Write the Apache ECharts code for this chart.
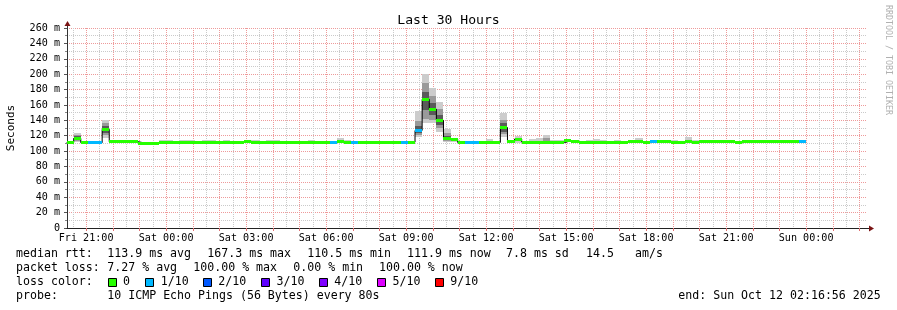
<!DOCTYPE html>
<html>
<head>
<meta charset="utf-8">
<script src="https://cdn.jsdelivr.net/npm/echarts@6/dist/echarts.min.js"></script>
<style>
html,body{margin:0;padding:0;background:#ffffff;}
#c{width:897px;height:310px;}
</style>
</head>
<body>
<div id="c"></div>
<script>
// ---------- DATA ----------
// x unit: hours relative to Fri 21:00
const X_MIN = -0.717778;          // Fri 20:16:56
const X_MAX = 29.282222;          // Sun 02:16:56
const BUCKET_FIRST = -0.733333;   // first 16-minute bucket starts Fri 20:16
const BUCKET_HOURS = 16 / 60;

const timeLabelHours = [0, 3, 6, 9, 12, 15, 18, 21, 24, 27];
const timeLabels = ['Fri 21:00', 'Sat 00:00', 'Sat 03:00', 'Sat 06:00', 'Sat 09:00',
                    'Sat 12:00', 'Sat 15:00', 'Sat 18:00', 'Sat 21:00', 'Sun 00:00'];

// median RTT per 16-min bucket (ms)
const median = [
  111.0, 116.5, 110.8, 110.8, 110.8, 128.3, 112.0, 112.0, 113.0, 112.3,
  110.5, 110.5, 110.5, 111.5, 111.5, 111.5, 111.5, 111.5, 111.0, 111.8,
  111.8, 111.5, 111.5, 111.5, 111.5, 112.5, 111.5, 111.5, 111.5, 111.5,
  111.5, 111.5, 111.5, 111.5, 111.5, 111.5, 111.5, 111.5, 112.0, 111.5,
  111.5, 111.5, 111.0, 111.0, 111.5, 111.5, 111.5, 111.5, 111.5, 126.8,
  167.3, 154.5, 140.0, 116.2, 115.5, 111.2, 111.2, 111.2, 111.2, 111.2,
  111.2, 130.7, 112.0, 115.7, 111.8, 111.8, 111.8, 111.8, 111.8, 111.0,
  113.5, 112.0, 111.8, 111.8, 111.8, 111.8, 111.5, 111.5, 111.5, 112.2,
  112.5, 110.8, 112.2, 112.2, 112.2, 111.0, 111.0, 112.2, 111.0, 112.2,
  112.2, 112.2, 112.2, 112.2, 110.8, 112.2, 112.2, 112.2, 112.2, 112.2,
  112.2, 112.2, 112.2, 111.9
];
// lost pings (of 10) per bucket
const lossCount = [
  0,0,0,1,1,0,0,0,0,0,
  0,0,0,0,0,0,0,0,0,0,
  0,0,0,0,0,0,0,0,0,0,
  0,0,0,0,0,0,0,1,0,0,
  1,0,0,0,0,0,0,1,0,1,
  0,0,0,0,0,0,1,1,0,0,
  0,0,0,0,0,0,0,0,0,0,
  0,0,0,0,0,0,0,0,0,0,
  0,0,1,0,0,0,0,0,0,0,
  0,0,0,0,0,0,0,0,0,0,
  0,0,0,1
];
// smoke: full range of the 10 pings (ms)
const smokeMax = [
  112.0, 124.0, 112.0, 112.0, 112.0, 140.5, 114.4, 113.0, 114.0, 113.3,
  111.5, 111.5, 111.5, 114.5, 114.5, 112.5, 114.5, 114.5, 112.5, 114.5,
  114.5, 112.5, 113.8, 112.5, 112.5, 113.5, 114.5, 112.5, 114.5, 114.5,
  112.5, 112.5, 112.5, 112.5, 114.5, 112.5, 112.5, 112.5, 117.5, 114.5,
  112.5, 112.5, 113.5, 113.5, 112.5, 112.5, 112.5, 112.5, 112.5, 152.0,
  200.0, 181.6, 163.4, 128.5, 117.5, 112.2, 112.2, 112.2, 112.2, 115.7,
  112.2, 149.0, 113.0, 119.0, 112.8, 115.5, 117.5, 121.0, 114.5, 114.5,
  114.5, 114.5, 112.8, 114.5, 115.5, 114.5, 112.5, 114.5, 112.5, 114.5,
  117.4, 111.8, 113.2, 113.2, 114.5, 114.5, 112.0, 118.7, 114.5, 113.2,
  113.2, 113.2, 114.5, 113.2, 111.8, 114.5, 113.2, 114.5, 113.2, 113.2,
  113.2, 113.2, 114.5, 112.9
];
const smokeMin = [
  110.0, 111.5, 109.8, 109.8, 109.8, 117.0, 111.0, 111.0, 112.0, 111.3,
  109.5, 109.5, 109.5, 110.5, 110.5, 110.5, 110.5, 110.5, 110.0, 110.8,
  110.8, 110.5, 110.5, 110.5, 110.5, 111.5, 110.5, 110.5, 110.5, 110.5,
  110.5, 110.5, 110.5, 110.5, 110.5, 110.5, 110.5, 110.5, 111.0, 110.5,
  110.5, 110.5, 110.0, 110.0, 110.5, 110.5, 110.5, 110.5, 110.5, 118.0,
  136.0, 136.0, 125.2, 112.0, 112.0, 110.2, 110.2, 110.2, 110.2, 110.2,
  110.2, 118.5, 111.0, 110.5, 110.8, 110.8, 110.8, 110.8, 110.8, 110.0,
  112.5, 111.0, 110.8, 110.8, 110.8, 110.8, 110.5, 110.5, 110.5, 111.2,
  111.5, 109.8, 111.2, 111.2, 111.2, 110.0, 110.0, 111.2, 110.0, 111.2,
  111.2, 111.2, 111.2, 111.2, 109.8, 111.2, 111.2, 111.2, 111.2, 111.2,
  111.2, 111.2, 111.2, 110.9
];
// inner smoke shades (only where visible)
const midBuckets = [1, 5, 49, 50, 51, 52, 53, 61, 63, 67];
const midMin =     [113, 121, 121, 142, 140, 130, 113, 122, 112.5, 112.5];
const midMax =     [121, 136, 139, 188, 172, 155, 124, 141, 117.5, 116.5];
const coreBuckets = [1, 5, 49, 50, 51, 52, 53, 61];
const coreMin =     [114, 124, 123, 153, 147, 134, 114, 125];
const coreMax =     [119.5, 133, 132, 177, 163, 147, 120, 136];

// loss colour legend
const lossSteps = [0, 1, 2, 3, 4, 5, 9];
const lossLabels = ['0', '1/10', '2/10', '3/10', '4/10', '5/10', '9/10'];
const lossColors = ['#26ff00', '#00b8ff', '#0059ff', '#5e00ff', '#7e00ff', '#dd00ff', '#ff0000'];

// ---------- CHART ----------
const MONO = "'DejaVu Sans Mono', monospace";
const RED_GRID = '#ee9a9a';
const GRAY_GRID = '#cacaca';
const N = median.length;

function bucketStart(i) { return BUCKET_FIRST + i * BUCKET_HOURS; }
function lossColor(c) {
  let col = lossColors[0];
  for (let k = 0; k < lossSteps.length; k++) if (c >= lossSteps[k]) col = lossColors[k];
  return col;
}

const hourLines = [];
for (let h = 0; h <= 29; h++) hourLines.push(h);
const halfHourLines = [];
for (let h = -0.5; h <= 29; h += 1) halfHourLines.push(h);

const bucketData = [];
for (let i = 0; i < N; i++) bucketData.push([bucketStart(i), bucketStart(i + 1), smokeMin[i], smokeMax[i], i]);

const lineData = [];
for (let i = 0; i < N; i++) lineData.push([bucketStart(i), median[i]]);
lineData.push([bucketStart(N), median[N - 1]]);

function makeRect(api, cs, t0, t1, lo, hi, fill) {
  const a = api.coord([t0, hi]);
  const b = api.coord([t1, lo]);
  let x0 = Math.round(Math.max(a[0], cs.x));
  let x1 = Math.round(Math.min(b[0], cs.x + cs.width));
  let y0 = Math.round(a[1]);
  let y1 = Math.round(b[1]);
  if (y1 - y0 < 1) y1 = y0 + 1;
  return { type: 'rect', shape: { x: x0, y: y0, width: x1 - x0, height: y1 - y0 }, style: { fill: fill } };
}

const option = {
  animation: false,
  backgroundColor: '#ffffff',
  title: {
    text: 'Last 30 Hours', left: 'center', top: 9,
    textStyle: { fontFamily: MONO, fontSize: 13.1, fontWeight: 'normal', color: '#000000' }
  },
  grid: { left: 67, right: 30, top: 28, bottom: 82, containLabel: false, outerBoundsMode: 'none' },
  xAxis: [
    {
      type: 'value', min: X_MIN, max: X_MAX, position: 'bottom',
      axisLine: { show: true, onZero: false, lineStyle: { color: '#222222', width: 1 } },
      axisTick: { show: true, customValues: hourLines, length: 3, lineStyle: { color: '#e07070' } },
      axisLabel: {
        show: true, customValues: timeLabelHours, margin: 5, hideOverlap: false,
        fontFamily: MONO, fontSize: 10.1, color: '#000000',
        formatter: function (v) { const k = timeLabelHours.indexOf(Math.round(v)); return k >= 0 ? timeLabels[k] : ''; }
      },
      splitLine: { show: true, lineStyle: { color: RED_GRID, width: 1, type: [1, 1] } },
      z: 2
    },
    {
      type: 'value', min: X_MIN, max: X_MAX, position: 'bottom',
      axisLine: { show: false, onZero: false },
      axisTick: { show: false, customValues: halfHourLines },
      axisLabel: { show: false },
      splitLine: { show: true, lineStyle: { color: GRAY_GRID, width: 1, type: [1, 1] } }
    }
  ],
  yAxis: {
    type: 'value', min: 0, max: 260, interval: 20,
    name: 'Seconds', nameLocation: 'middle', nameGap: 50, nameRotate: 90,
    nameTextStyle: { fontFamily: MONO, fontSize: 11, color: '#000000' },
    axisLine: { show: true, onZero: false, lineStyle: { color: '#333333', width: 1 } },
    axisTick: { show: true, length: 3, lineStyle: { color: '#555555' } },
    minorTick: { show: true, splitNumber: 2, length: 2, lineStyle: { color: '#888888' } },
    axisLabel: {
      margin: 7, fontFamily: MONO, fontSize: 10.1, color: '#000000',
      formatter: function (v) { return v === 0 ? '0' : v + ' m'; }
    },
    splitLine: { show: true, lineStyle: { color: RED_GRID, width: 1, type: [1, 1] } },
    minorSplitLine: { show: true, lineStyle: { color: GRAY_GRID, width: 1, type: [1, 1] } }
  },
  series: [
    {
      type: 'custom', name: 'smoke', xAxisIndex: 0, yAxisIndex: 0, z: 3, silent: true,
      data: bucketData, encode: { x: [0, 1], y: [2, 3] },
      renderItem: function (params, api) {
        const i = api.value(4);
        const cs = params.coordSys;
        const t0 = api.value(0), t1 = api.value(1);
        const children = [makeRect(api, cs, t0, t1, smokeMin[i], smokeMax[i], '#cccccc')];
        const m = midBuckets.indexOf(i);
        if (m >= 0) children.push(makeRect(api, cs, t0, t1, midMin[m], midMax[m], '#9a9a9a'));
        const c = coreBuckets.indexOf(i);
        if (c >= 0) children.push(makeRect(api, cs, t0, t1, coreMin[c], coreMax[c], '#5a5a5a'));
        return { type: 'group', children: children };
      }
    },
    {
      type: 'line', name: 'median-line', xAxisIndex: 0, yAxisIndex: 0, z: 4, silent: true,
      step: 'end', data: lineData, showSymbol: false, symbol: 'none',
      lineStyle: { color: '#000000', width: 1 }
    },
    {
      type: 'custom', name: 'median', xAxisIndex: 0, yAxisIndex: 0, z: 5, silent: true,
      data: bucketData, encode: { x: [0, 1], y: [2, 3] },
      renderItem: function (params, api) {
        const i = api.value(4);
        const cs = params.coordSys;
        const a = api.coord([api.value(0), median[i]]);
        const b = api.coord([api.value(1), median[i]]);
        const x0 = Math.round(Math.max(a[0], cs.x));
        const x1 = Math.round(Math.min(b[0], cs.x + cs.width));
        const y0 = Math.round(a[1] - 1.5);
        return { type: 'rect', shape: { x: x0, y: y0, width: x1 - x0, height: 3 }, style: { fill: lossColor(lossCount[i]) } };
      }
    }
  ]
};

const chart = echarts.init(document.getElementById('c'), null, { renderer: 'canvas' });
chart.setOption(option);

// ---------- decorations: arrows, watermark, legend ----------
const pxEnd = chart.convertToPixel({ gridIndex: 0 }, [X_MAX, 0]);
const pyTop = chart.convertToPixel({ gridIndex: 0 }, [X_MIN, 260]);
const ARROW = '#7a1414';
const g = [];
g.push({ type: 'line', shape: { x1: pxEnd[0], y1: pxEnd[1] + 0.5, x2: pxEnd[0] + 3, y2: pxEnd[1] + 0.5 }, style: { stroke: '#222222', lineWidth: 1 } });
g.push({ type: 'polygon', shape: { points: [[pxEnd[0] + 2, pxEnd[1] - 2.5], [pxEnd[0] + 2, pxEnd[1] + 3.5], [pxEnd[0] + 7, pxEnd[1] + 0.5]] }, style: { fill: ARROW } });
g.push({ type: 'line', shape: { x1: pyTop[0] + 0.5, y1: pyTop[1], x2: pyTop[0] + 0.5, y2: pyTop[1] - 2 }, style: { stroke: '#333333', lineWidth: 1 } });
g.push({ type: 'polygon', shape: { points: [[pyTop[0] - 2.5, pyTop[1] - 2], [pyTop[0] + 3.5, pyTop[1] - 2], [pyTop[0] + 0.5, pyTop[1] - 7]] }, style: { fill: ARROW } });

g.push({ type: 'text', x: 888.5, y: 5, rotation: -Math.PI / 2,
  style: { text: 'RRDTOOL / TOBI OETIKER', fontFamily: MONO, fontSize: 8.3, fill: '#b0b0b0', textAlign: 'left', textVerticalAlign: 'middle' } });

const legendTexts = [
  ['median rtt:', 16, 254.3], ['113.9 ms avg', 107.3, 254.3], ['167.3 ms max', 207.3, 254.3],
  ['110.5 ms min', 307.3, 254.3], ['111.9 ms now', 407, 254.3], ['7.8 ms sd', 506, 254.3],
  ['14.5', 586, 254.3], ['am/s', 635, 254.3],
  ['packet loss:', 16, 268.3], ['7.27 % avg', 107.3, 268.3], ['100.00 % max', 193.3, 268.3],
  ['0.00 % min', 293.3, 268.3], ['100.00 % now', 379, 268.3],
  ['loss color:', 16, 282.3],
  ['probe:', 16, 296.3], ['10 ICMP Echo Pings (56 Bytes) every 80s', 107.3, 296.3],
  ['end: Sun Oct 12 02:16:56 2025', 678.3, 296.3]
];
legendTexts.forEach(function (t) {
  g.push({ type: 'text', x: t[1], y: t[2], style: { text: t[0], fontFamily: MONO, fontSize: 11.6, fill: '#000000', textAlign: 'left', textVerticalAlign: 'middle' } });
});
const boxX = [108.5, 145.5, 203.5, 261.5, 319.5, 377.5, 435.5];
const boxLabelX = [123, 160.7, 218.3, 276.5, 334.2, 392.5, 450.3];
for (let k = 0; k < lossColors.length; k++) {
  g.push({ type: 'rect', shape: { x: boxX[k], y: 278.5, width: 8, height: 8 }, style: { fill: lossColors[k], stroke: '#000000', lineWidth: 1 } });
  g.push({ type: 'text', x: boxLabelX[k], y: 282.3, style: { text: lossLabels[k], fontFamily: MONO, fontSize: 11.6, fill: '#000000', textAlign: 'left', textVerticalAlign: 'middle' } });
}
chart.setOption({ graphic: { elements: g } });
</script>
</body>
</html>
